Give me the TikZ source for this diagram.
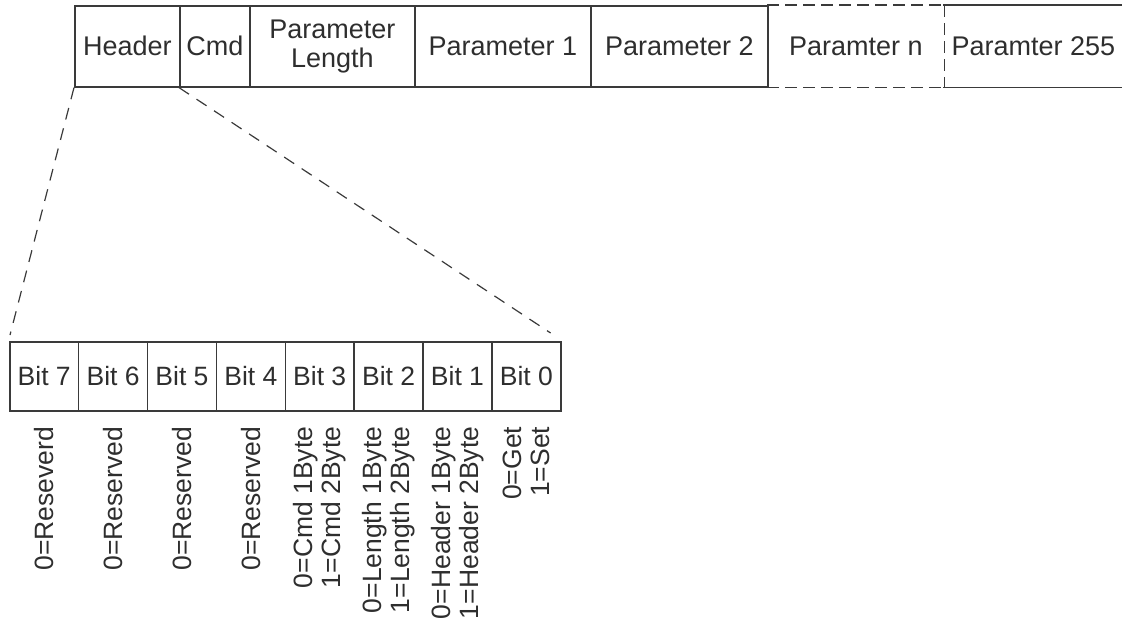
\documentclass[tikz,border=0pt]{standalone}
\usepackage{fontspec}
\setmainfont{Liberation Sans}
\definecolor{linec}{HTML}{3A3A3A}
\definecolor{txt}{HTML}{2E2E2E}
\begin{document}
\begin{tikzpicture}[x=1pt,y=-1pt,
  field/.style={draw=linec, line width=1.6pt, minimum height=81pt, inner sep=0pt,
    anchor=north west, align=center, text=txt, font=\fontsize{27}{29}\selectfont},
  openfield/.style={field, draw=none},
  bitcell/.style={draw=linec, line width=1.6pt, minimum height=69pt, minimum width=68.875pt,
    inner sep=0pt, anchor=north west, text=txt, font=\fontsize{26.5}{29}\selectfont},
  bitlabel/.style={rotate=90, anchor=east, inner sep=0pt, align=right, text=txt,
    font=\fontsize{26.5}{28}\selectfont},
  zoomline/.style={draw=linec, line width=1.2pt, dash pattern=on 12pt off 9pt},
  gapline/.style={draw=linec, line width=1.6pt, dash pattern=on 12pt off 6pt}
]
\useasboundingbox (0,0) rectangle (1122,622);
% top row
\node[field, minimum width=105pt] (hdr) at (74,5) {Header};
\node[field, minimum width=70pt] (cmd) at (179,5) {Cmd};
\node[field, minimum width=165pt] (plen) at (249,5) {Parameter\\Length};
\node[field, minimum width=176pt] (p1) at (414,5) {Parameter 1};
\node[field, minimum width=177pt] (p2) at (590,5) {Parameter 2};
\node[openfield, minimum width=176pt] (pn) at (767,5) {Paramter n};
\node[openfield, minimum width=179pt] (p255) at (943,5) {Paramter 255};
\draw[gapline] (pn.north west) -- (pn.north east);
\draw[gapline] (pn.south west) -- (pn.south east);
\draw[gapline] (pn.north east) -- (pn.south east);
\draw[draw=linec, line width=1.6pt] (p255.north west) -- (p255.north east);
\draw[draw=linec, line width=1.6pt] (p255.south west) -- (p255.south east);
% bit row
\foreach \b [count=\i from 0] in {7,6,5,4,3,2,1,0} {
  \node[bitcell] (b\b) at (9+68.875*\i,341) {Bit \b};
}
% labels
\node[bitlabel] (l7) at ([yshift=-15pt]b7.south) {0=Reseverd};
\node[bitlabel] (l6) at ([yshift=-15pt]b6.south) {0=Reserved};
\node[bitlabel] (l5) at ([yshift=-15pt]b5.south) {0=Reserved};
\node[bitlabel] (l4) at ([yshift=-15pt]b4.south) {0=Reserved};
\node[bitlabel] (l3) at ([yshift=-15pt]b3.south) {0=Cmd 1Byte\\1=Cmd 2Byte};
\node[bitlabel] (l2) at ([yshift=-15pt]b2.south) {0=Length 1Byte\\1=Length 2Byte};
\node[bitlabel] (l1) at ([yshift=-15pt]b1.south) {0=Header 1Byte\\1=Header 2Byte};
\node[bitlabel] (l0) at ([yshift=-15pt]b0.south) {0=Get\\1=Set};
% zoom lines
\coordinate (zl) at ([xshift=1pt,yshift=6pt]b7.north west);
\coordinate (zr) at ([xshift=-11pt,yshift=8pt]b0.north east);
\draw[zoomline] (hdr.south west) -- (zl);
\draw[zoomline] (cmd.south west) -- (zr);
\end{tikzpicture}
\end{document}
